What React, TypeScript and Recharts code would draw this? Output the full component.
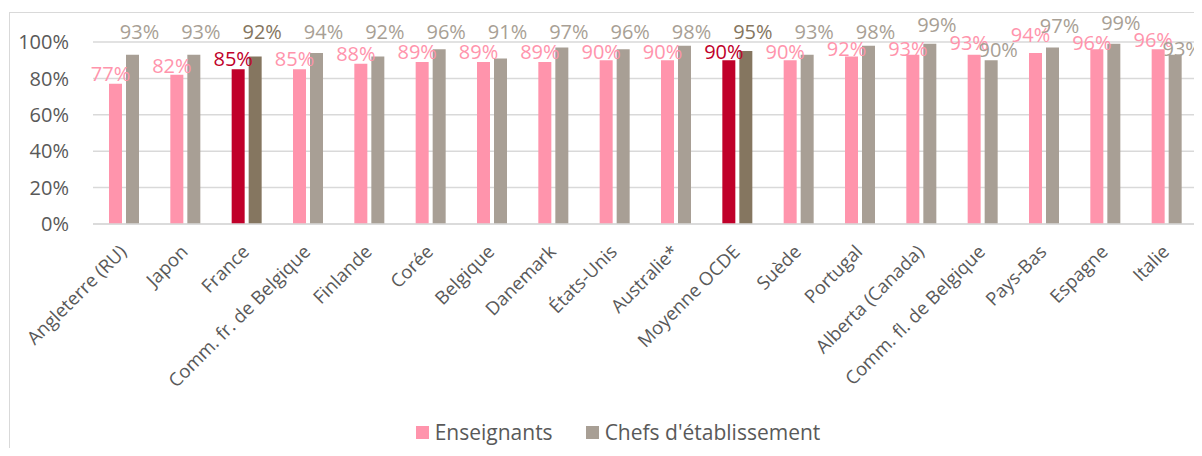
import React from 'react';
import { BarChart, Bar, XAxis, YAxis, CartesianGrid, Cell, LabelList, Legend } from 'recharts';

const CATEGORIES = [
    'Angleterre (RU)', 'Japon', 'France', 'Comm. fr. de Belgique', 'Finlande', 'Corée',
    'Belgique', 'Danemark', 'États-Unis', 'Australie*', 'Moyenne OCDE', 'Suède',
    'Portugal', 'Alberta (Canada)', 'Comm. fl. de Belgique', 'Pays-Bas', 'Espagne', 'Italie',
];
const ENSEIGNANTS = [0.77, 0.82, 0.85, 0.85, 0.88, 0.89, 0.89, 0.89, 0.90, 0.90, 0.90, 0.90, 0.92, 0.93, 0.93, 0.94, 0.96, 0.96];
const CHEFS = [0.93, 0.93, 0.92, 0.94, 0.92, 0.96, 0.91, 0.97, 0.96, 0.98, 0.95, 0.93, 0.98, 0.99, 0.90, 0.97, 0.99, 0.93];
const SERIES_NAMES = ['Enseignants', "Chefs d'établissement"];
const HIGHLIGHTED = ['France', 'Moyenne OCDE'];
const Y_TICKS = [0, 0.2, 0.4, 0.6, 0.8, 1];

// labels were moved by hand in the original chart
const ENS_LABEL_NUDGE = [0, 1, 0, 0, 0, 0, 0, 0, 2, 2, 2, 2, 2, 4, -2, -8, 4, 1];
const CHEF_LABEL_NUDGE = [0, 0, 0, 0, 0, 0, 0, 0, 0, 0, 0, 0, 0, -7, 18, -6, -9, 17];

const PINK = '#FF94AC';
const GRAY = '#A89F95';
const RED = '#C0002A';
const BROWN = '#857660';
const TEXT = '#595959';
const GRID = '#D9D9D9';
const FONT = '"Open Sans", sans-serif';

const data = CATEGORIES.map((name, i) => ({
    name,
    ens: ENSEIGNANTS[i],
    chef: CHEFS[i],
}));

const pct = (v: number) => `${Math.round(v * 100)}%`;

const isHi = (i: number) => HIGHLIGHTED.includes(CATEGORIES[i]);

const EnsLabel = (props: any) => {
    const { x, y, width, value, index } = props;
    return (
        <text
            x={x + width / 2 - 5}
            y={y - 3 + ENS_LABEL_NUDGE[index]}
            textAnchor="middle"
            fontSize={20}
            fontFamily={FONT}
            fill={isHi(index) ? RED : PINK}
        >
            {pct(value)}
        </text>
    );
};

const ChefLabel = (props: any) => {
    const { x, y, width, height, value, index } = props;
    // all labels sit on one row just above the plot top
    const plotTop = y + height - height / value;
    return (
        <text
            x={x + width / 2 + 7}
            y={plotTop - 3 + CHEF_LABEL_NUDGE[index]}
            textAnchor="middle"
            fontSize={20}
            fontFamily={FONT}
            fill={isHi(index) ? BROWN : GRAY}
        >
            {pct(value)}
        </text>
    );
};

const CountryTick = (props: any) => {
    const { x, y, payload } = props;
    return (
        <g transform={`translate(${x + 4},${y + 29})`}>
            <text textAnchor="end" transform="rotate(-45)" fill={TEXT} fontSize={18.5} fontFamily={FONT}>
                {payload.value}
            </text>
        </g>
    );
};

const LegendContent = () => (
    <div
        style={{
            display: 'flex',
            justifyContent: 'center',
            alignItems: 'center',
            gap: 33,
            height: 32,
            paddingTop: 8,
            paddingLeft: 31,
            fontFamily: FONT,
            fontSize: 21,
            color: TEXT,
        }}
    >
        {SERIES_NAMES.map((s, i) => (
            <div key={s} style={{ display: 'flex', alignItems: 'center', gap: 6 }}>
                <span style={{ width: 13, height: 13, background: i === 0 ? PINK : GRAY, display: 'inline-block' }} />
                <span>{s}</span>
            </div>
        ))}
    </div>
);

export default function App() {
    return (
        <div style={{ position: 'relative', width: 1194, height: 440, overflow: 'hidden' }}>
            <div
                style={{
                    position: 'absolute',
                    left: 1,
                    top: 4,
                    width: 1260,
                    height: 500,
                    border: `1.5px solid ${GRID}`,
                }}
            />
            <BarChart
                width={1194}
                height={440}
                data={data}
                margin={{ top: 34, right: 5, left: 0, bottom: 0 }}
                barSize={13}
                barGap={4}
            >
                <CartesianGrid vertical={false} stroke={GRID} strokeWidth={1.5} />
                <XAxis
                    dataKey="name"
                    interval={0}
                    height={184}
                    tickLine={false}
                    tickSize={0}
                    tickMargin={0}
                    axisLine={{ stroke: GRID, strokeWidth: 1.5 }}
                    tick={<CountryTick />}
                />
                <YAxis
                    width={85}
                    domain={[0, 1]}
                    ticks={Y_TICKS}
                    tickFormatter={pct}
                    axisLine={false}
                    tickLine={false}
                    tickSize={0}
                    tickMargin={24}
                    tick={{ fill: TEXT, fontSize: 20, fontFamily: FONT }}
                />
                <Legend verticalAlign="bottom" content={<LegendContent />} />
                <Bar dataKey="ens" name={SERIES_NAMES[0]} fill={PINK} isAnimationActive={false}>
                    {data.map((_d, i) => (
                        <Cell key={`ens-${i}`} fill={isHi(i) ? RED : PINK} />
                    ))}
                    <LabelList dataKey="ens" content={<EnsLabel />} />
                </Bar>
                <Bar dataKey="chef" name={SERIES_NAMES[1]} fill={GRAY} isAnimationActive={false}>
                    {data.map((_d, i) => (
                        <Cell key={`chef-${i}`} fill={isHi(i) ? BROWN : GRAY} />
                    ))}
                    <LabelList dataKey="chef" content={<ChefLabel />} />
                </Bar>
            </BarChart>
        </div>
    );
}
